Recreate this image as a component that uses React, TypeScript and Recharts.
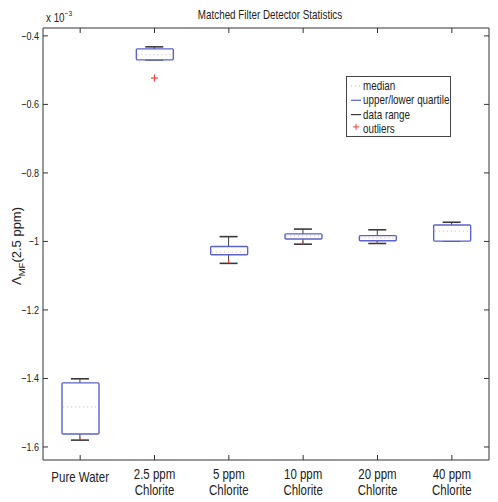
import { ComposedChart, Bar, Scatter, XAxis, YAxis } from 'recharts';

const categories = ['Pure Water', '2.5 ppm Chlorite', '5 ppm Chlorite', '10 ppm Chlorite', '20 ppm Chlorite', '40 ppm Chlorite'];
const categoryLines = [['Pure Water'], ['2.5 ppm', 'Chlorite'], ['5 ppm', 'Chlorite'], ['10 ppm', 'Chlorite'], ['20 ppm', 'Chlorite'], ['40 ppm', 'Chlorite']];

// values in units of 1e-3
const whiskerLow = [-1.58, -0.47, -1.064, -1.008, -1.006, -0.999];
const whiskerHigh = [-1.401, -0.432, -0.986, -0.964, -0.966, -0.944];
const quartileLow = [-1.562, -0.47, -1.039, -0.993, -0.998, -0.999];
const quartileHigh = [-1.413, -0.438, -1.015, -0.978, -0.983, -0.952];
const medians = [-1.483, -0.455, -1.031, -0.984, -0.99, -0.97];
const outliers: (number | null)[] = [null, -0.523, null, null, null, null];
const yTicks = [-1.6, -1.4, -1.2, -1, -0.8, -0.6, -0.4];

const data = categories.map((name, i) => ({
  name,
  range: [whiskerLow[i], whiskerHigh[i]],
  box: [quartileLow[i], quartileHigh[i]],
  median: medians[i],
  outlier: outliers[i],
}));

const FONT = "'Liberation Sans', Arial, Helvetica, sans-serif";
const AXIS = '#333';
const BLUE = '#5b63c9';
const DARK = '#3a3a3a';
const RED = '#e8413a';

const fmt = (v: number) => String(v).replace('-', '\u2212');

// the source figure is squeezed sideways, so text is narrowed to match
function NText({ x, y, size, anchor = 'start', children }: any) {
  return (
    <text
      transform={`translate(${x},${y}) scale(0.82,1)`}
      textAnchor={anchor}
      fontSize={size}
      fontFamily={FONT}
      fill="#222"
    >
      {children}
    </text>
  );
}

function Whisker(props: any) {
  const { x, y, width, height } = props;
  const cx = x + width / 2;
  const top = Math.min(y, y + height);
  const bottom = Math.max(y, y + height);
  return (
    <g>
      <line x1={cx} x2={cx} y1={top} y2={bottom} stroke={DARK} strokeWidth={1} />
      <line x1={cx - 9} x2={cx + 9} y1={top} y2={top} stroke={DARK} strokeWidth={1.6} />
      <line x1={cx - 9} x2={cx + 9} y1={bottom} y2={bottom} stroke={DARK} strokeWidth={1.6} />
      <line x1={cx} x2={cx} y1={bottom - 3} y2={bottom} stroke={RED} strokeWidth={1.2} />
    </g>
  );
}

function Box(props: any) {
  const { x, y, width, height } = props;
  const top = Math.min(y, y + height);
  const h = Math.abs(height);
  return <rect x={x} y={top} width={width} height={h} rx={1} fill="#fff" stroke={BLUE} strokeWidth={1.4} />;
}

function Median(props: any) {
  const { cx, cy } = props;
  if (!Number.isFinite(cy)) return <g />;
  return <line x1={cx - 17} x2={cx + 17} y1={cy} y2={cy} stroke="#e0a8a8" strokeWidth={1} strokeDasharray="1 3" />;
}

function Plus(props: any) {
  const { cx, cy, payload } = props;
  if (payload == null || payload.outlier == null || !Number.isFinite(cy)) return <g />;
  return (
    <g stroke={RED} strokeWidth={1.2}>
      <line x1={cx - 3.5} x2={cx + 3.5} y1={cy} y2={cy} />
      <line x1={cx} x2={cx} y1={cy - 3.5} y2={cy + 3.5} />
    </g>
  );
}

function BottomTick(props: any) {
  const { x, y, index } = props;
  const lines = categoryLines[index] || [];
  const single = lines.length === 1;
  return (
    <g>
      <line x1={x} x2={x} y1={y} y2={y - 5} stroke={AXIS} />
      {lines.map((t, i) => (
        <NText key={i} x={x} y={single ? y + 22 : y + 19 + i * 16} size={14} anchor="middle">
          {t}
        </NText>
      ))}
    </g>
  );
}

function TopTick(props: any) {
  const { x, y } = props;
  return <line x1={x} x2={x} y1={y} y2={y + 5} stroke={AXIS} />;
}

function LeftTick(props: any) {
  const { x, y, payload } = props;
  return (
    <g>
      <line x1={x + 4} x2={x + 9} y1={y} y2={y} stroke={AXIS} />
      <NText x={x} y={y + 4} size={11} anchor="end">
        {fmt(payload.value)}
      </NText>
    </g>
  );
}

function RightTick(props: any) {
  const { x, y } = props;
  return <line x1={x} x2={x - 5} y1={y} y2={y} stroke={AXIS} />;
}

function TitleLabel() {
  return (
    <g>
      <NText x={270} y={19} size={12} anchor="middle">
        Matched Filter Detector Statistics
      </NText>
      <NText x={46} y={22} size={12}>
        x 10
        <tspan dy={-6} fontSize={8}>
          {'\u22123'}
        </tspan>
      </NText>
    </g>
  );
}

function YLabel() {
  return (
    <text transform="translate(21, 246) rotate(-90)" textAnchor="middle" fontSize={13} fontFamily={FONT} fill="#222">
      Λ
      <tspan dy={4} fontSize={9.5}>
        MF
      </tspan>
      <tspan dy={-4}>(2.5 ppm)</tspan>
    </text>
  );
}

function LegendBox() {
  const rows = [
    { label: 'median', kind: 'median' },
    { label: 'upper/lower quartile', kind: 'quartile' },
    { label: 'data range', kind: 'range' },
    { label: 'outliers', kind: 'outlier' },
  ];
  return (
    <div style={{ position: 'absolute', left: 346, top: 76, width: 105, height: 61, border: '1px solid #444', background: '#fff', boxSizing: 'border-box' }}>
      <svg width={103} height={59} style={{ display: 'block' }}>
        {rows.map((r, i) => {
          const cy = 9 + i * 14.3;
          return (
            <g key={r.label}>
              {r.kind === 'median' && <line x1={4} x2={14} y1={cy} y2={cy} stroke="#e0a8a8" strokeDasharray="1 3" />}
              {r.kind === 'quartile' && <line x1={4} x2={14} y1={cy} y2={cy} stroke={BLUE} strokeWidth={1.2} />}
              {r.kind === 'range' && <line x1={4} x2={14} y1={cy} y2={cy} stroke={DARK} strokeWidth={1.2} />}
              {r.kind === 'outlier' && (
                <g stroke={RED} strokeWidth={1}>
                  <line x1={6} x2={12} y1={cy - 2} y2={cy - 2} />
                  <line x1={9} x2={9} y1={cy - 5} y2={cy + 1} />
                </g>
              )}
              <NText x={16} y={cy + 4} size={12}>
                {r.label}
              </NText>
            </g>
          );
        })}
      </svg>
    </div>
  );
}

export default function App() {
  return (
    <div style={{ position: 'absolute', left: 0, top: 0, width: 498, height: 502, background: '#fff' }}>
      <ComposedChart width={498} height={502} data={data} margin={{ top: 0, right: 0, bottom: 0, left: 0 }}>
        <XAxis
          dataKey="name"
          xAxisId="bottom"
          height={42}
          interval={0}
          tickSize={0}
          tickMargin={0}
          tickLine={false}
          axisLine={{ stroke: AXIS }}
          tick={<BottomTick />}
        />
        <XAxis
          dataKey="name"
          xAxisId="top"
          orientation="top"
          height={28}
          interval={0}
          tickSize={0}
          tickMargin={0}
          tickLine={false}
          axisLine={{ stroke: AXIS }}
          tick={<TopTick />}
          label={{ content: <TitleLabel /> }}
        />
        <YAxis
          yAxisId="left"
          type="number"
          domain={[-1.638, -0.377]}
          ticks={yTicks}
          allowDataOverflow
          width={43}
          tickSize={0}
          tickMargin={4}
          tickLine={false}
          axisLine={{ stroke: AXIS }}
          tick={<LeftTick />}
          label={{ content: <YLabel /> }}
        />
        <YAxis
          yAxisId="right"
          orientation="right"
          type="number"
          domain={[-1.638, -0.377]}
          ticks={yTicks}
          allowDataOverflow
          width={9}
          tickSize={0}
          tickMargin={0}
          tickLine={false}
          axisLine={{ stroke: AXIS }}
          tick={<RightTick />}
        />
        <Bar xAxisId="bottom" yAxisId="left" dataKey="range" shape={<Whisker />} isAnimationActive={false} />
        <Bar xAxisId="top" yAxisId="left" dataKey="box" barSize={37} shape={<Box />} isAnimationActive={false} />
        <Scatter xAxisId="bottom" yAxisId="left" dataKey="median" shape={<Median />} isAnimationActive={false} />
        <Scatter xAxisId="bottom" yAxisId="left" dataKey="outlier" shape={<Plus />} isAnimationActive={false} />
      </ComposedChart>
      <LegendBox />
    </div>
  );
}
